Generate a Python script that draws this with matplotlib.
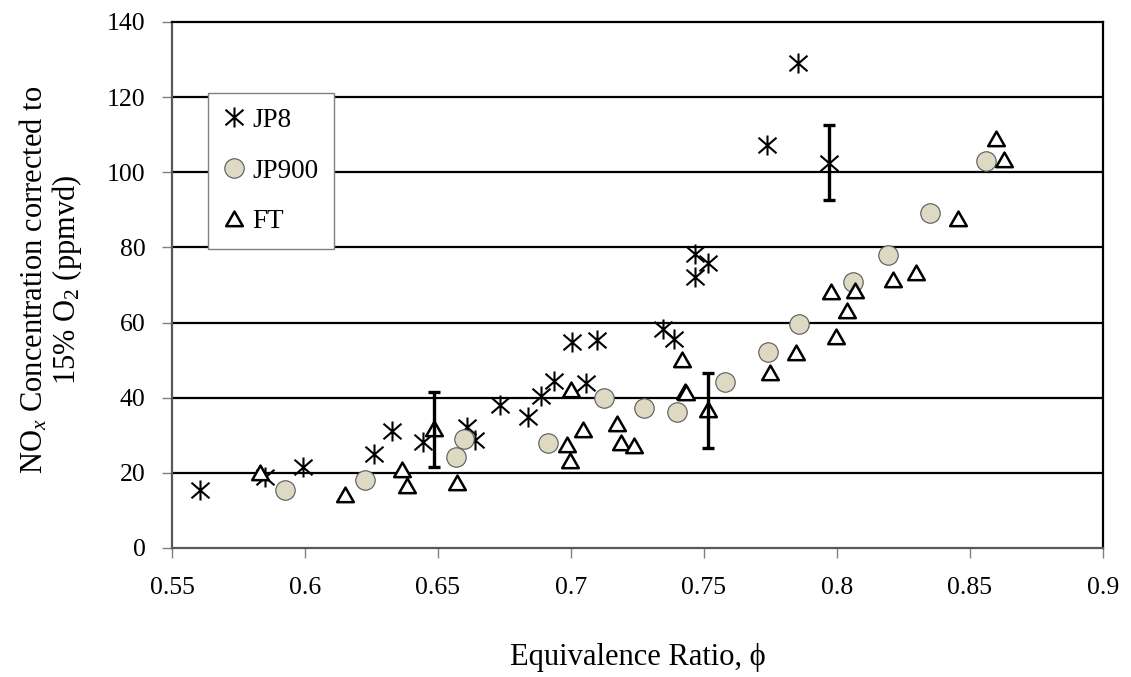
import matplotlib
matplotlib.use('Agg')
import matplotlib.pyplot as plt
from matplotlib.path import Path
from matplotlib.lines import Line2D
import numpy as np

plt.rcParams['font.family'] = ['Liberation Serif', 'DejaVu Serif']
plt.rcParams['mathtext.fontset'] = 'custom'
plt.rcParams['mathtext.rm'] = 'Liberation Serif'
plt.rcParams['mathtext.it'] = 'Liberation Serif:italic'

# ---------------- data ----------------
jp8_phi = [0.5606, 0.5848, 0.5994, 0.6260, 0.6326, 0.6445, 0.6608, 0.6639, 0.6733,
           0.6840, 0.6886, 0.6937, 0.7003, 0.7056, 0.7097, 0.7344, 0.7388, 0.7466,
           0.7466, 0.7516, 0.7735, 0.7854, 0.7969]
jp8_nox = [15.4, 18.8, 21.5, 25.0, 31.2, 28.2, 32.3, 28.7, 38.1,
           34.8, 40.5, 44.5, 54.7, 44.0, 55.4, 58.2, 55.5, 78.3,
           72.0, 75.9, 107.3, 129.2, 102.6]

jp900_phi = [0.5923, 0.6226, 0.6568, 0.6596, 0.6915, 0.7125, 0.7275, 0.7397, 0.7578,
             0.7739, 0.7858, 0.8061, 0.8192, 0.8349, 0.8559]
jp900_nox = [15.4, 18.1, 24.3, 28.9, 28.0, 40.0, 37.3, 36.3, 44.1,
             52.1, 59.6, 70.9, 78.0, 89.2, 103.0]

ft_phi = [0.5829, 0.6151, 0.6364, 0.6383, 0.6485, 0.6573, 0.6984, 0.6996, 0.6999,
          0.7044, 0.7174, 0.7188, 0.7238, 0.7416, 0.7428, 0.7432, 0.7516, 0.7750,
          0.7845, 0.7976, 0.7996, 0.8036, 0.8067, 0.8211, 0.8296, 0.8455, 0.8599, 0.8627]
ft_nox = [19.9, 14.1, 20.8, 16.5, 31.6, 17.2, 27.4, 23.2, 42.1,
          31.4, 32.9, 27.9, 27.1, 50.0, 41.6, 41.2, 36.7, 46.7,
          52.0, 68.2, 56.2, 63.2, 68.4, 71.3, 73.1, 87.6, 108.8, 103.3]

err_phi = [0.6485, 0.7516, 0.7969]
err_nox = [31.6, 36.7, 102.6]
err_val = [10.0, 10.0, 10.0]

x_ticks = [0.55, 0.60, 0.65, 0.70, 0.75, 0.80, 0.85, 0.90]
x_tick_labels = ['0.55', '0.6', '0.65', '0.7', '0.75', '0.8', '0.85', '0.9']
y_ticks = [0, 20, 40, 60, 80, 100, 120, 140]
y_tick_labels = ['0', '20', '40', '60', '80', '100', '120', '140']

# ---------------- markers ----------------
star = Path([(0, -1), (0, 1), (-0.9, -0.78), (0.9, 0.78), (-0.9, 0.78), (0.9, -0.78)],
            [Path.MOVETO, Path.LINETO] * 3)
tri = Path([(-1, -0.8), (1, -0.8), (0, 0.95), (-1, -0.8)],
           [Path.MOVETO, Path.LINETO, Path.LINETO, Path.CLOSEPOLY])

jp900_color = '#DDD9C3'
star_kw = dict(ls='none', marker=star, ms=14.4, mec='black', mew=1.5)
circ_kw = dict(ls='none', marker='o', ms=14, mfc=jp900_color, mec='#595959', mew=0.8)
tri_kw = dict(ls='none', marker=tri, ms=12, mfc='white', mec='black', mew=1.8)

fig = plt.figure(figsize=(11.31, 6.77), dpi=100)
ax = fig.add_axes([172 / 1131, 129 / 677, 931 / 1131, 526 / 677])

ax.set_xlim(0.55, 0.90)
ax.set_ylim(0, 140)

for v in y_ticks[1:-1]:
    ax.axhline(v, color='black', lw=1.6, zorder=1)

ax.plot(jp8_phi, jp8_nox, zorder=3, **star_kw)
ax.plot(jp900_phi, jp900_nox, zorder=3, **circ_kw)
ax.plot(ft_phi, ft_nox, zorder=4, **tri_kw)
ax.errorbar(err_phi, err_nox, yerr=err_val, fmt='none', ecolor='black',
            elinewidth=2.4, capsize=4.5, capthick=2.4, zorder=5)

ax.set_xticks(x_ticks)
ax.set_xticklabels(x_tick_labels)
ax.set_yticks(y_ticks)
ax.set_yticklabels(y_tick_labels)
ax.tick_params(axis='both', direction='out', length=7, width=1, color='#808080',
               labelsize=18.5)
ax.tick_params(axis='y', pad=12)
ax.tick_params(axis='x', pad=14)

for s in ['left', 'bottom']:
    ax.spines[s].set_color('#595959')
    ax.spines[s].set_linewidth(1.6)
for s in ['top', 'right']:
    ax.spines[s].set_color('black')
    ax.spines[s].set_linewidth(1.6)

handles = [Line2D([], [], **star_kw), Line2D([], [], **circ_kw), Line2D([], [], **tri_kw)]
leg = ax.legend(handles, ['JP8', 'JP900', 'FT'], loc='upper left',
                bbox_to_anchor=(36 / 931, (548 - 93) / 526), borderaxespad=0,
                fancybox=False, framealpha=1, edgecolor='#808080', fontsize=19.5,
                handlelength=0.8, handletextpad=0.3, labelspacing=0.95, borderpad=0.55)
leg.get_frame().set_linewidth(1.0)
leg.set_zorder(10)

fig.text(51 / 1131, 1 - 280 / 677,
         'NO$_x$ Concentration corrected to\n15% O$_2$ (ppmvd)',
         rotation=90, ha='center', va='center', fontsize=22, multialignment='center',
         linespacing=1.0)
fig.text(0.5637, 1 - 657 / 677, 'Equivalence Ratio, \u03d5', ha='center', va='center',
         fontsize=22)

fig.savefig('out.png', dpi=100)
